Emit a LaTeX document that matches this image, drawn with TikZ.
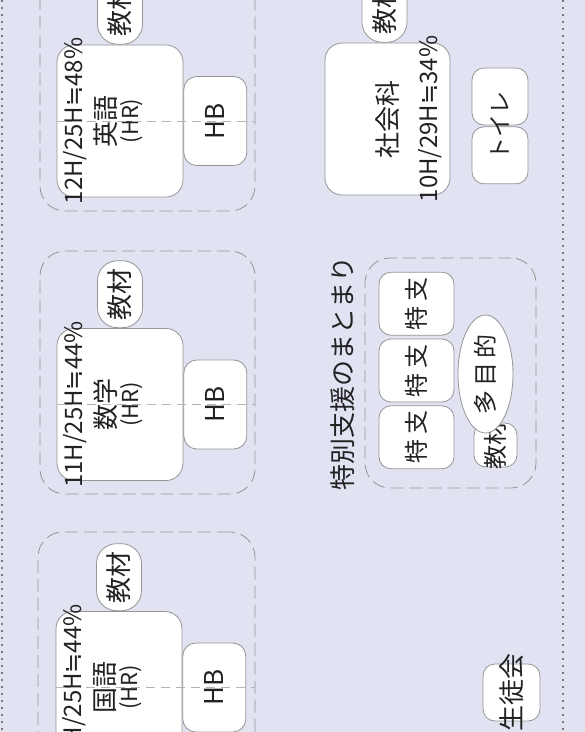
\documentclass[tikz,border=0pt]{standalone}
\usepackage{fontspec}
\setmainfont{Noto Sans CJK JP}
\newfontfamily\symfont{DejaVu Sans}
\usepackage{graphicx}
\usetikzlibrary{positioning,calc,shapes.geometric}
\definecolor{cBg}{HTML}{E1E3F3}
\definecolor{cLine}{HTML}{959595}
\definecolor{cMid}{HTML}{B4B4B4}
\definecolor{cDot}{HTML}{7A7A7A}
\definecolor{cInk}{HTML}{222222}
\newcommand{\vt}[1]{\rotatebox{90}{#1}}
\newcommand{\fs}[1]{\fontsize{#1}{#1}\selectfont}
\newcommand{\apx}{{\symfont ≒}}
\tikzset{
  box/.style ={rounded corners=12pt,draw=cLine,line width=0.8pt,fill=white,text=cInk,inner sep=0pt},
  room/.style={box,rounded corners=17pt,minimum width=126pt,minimum height=152pt,font=\fs{26}},
  hbox/.style={box,rounded corners=13pt,minimum width=63pt,minimum height=89pt,font=\fs{26}},
  kbox/.style={box,rounded corners=20pt,minimum width=45pt,minimum height=67pt,font=\fs{26}},
  sbox/.style={box,minimum width=75pt,minimum height=63pt,font=\fs{24}},
  tbox/.style={box,minimum width=56pt,minimum height=57pt},
  ell/.style ={ellipse,draw=cLine,line width=0.8pt,fill=white,text=cInk,inner sep=0pt},
  grp/.style ={rounded corners=25pt,draw=cLine,line width=0.8pt,dash pattern=on 13pt off 6pt},
  pct/.style ={inner sep=0pt,text=cInk,font=\fs{24}},
  mid/.style ={draw=cMid,line width=0.8pt,dash pattern=on 9pt off 6pt},
  rim/.style ={draw=cDot,line width=1.5pt,dash pattern=on 1.5pt off 5.5pt},
}

\begin{document}
\begin{tikzpicture}[x=1pt,y=-1pt]
\useasboundingbox (0,0) rectangle (585,732);
\fill[cBg] (0,0) rectangle (585,732);
\clip (0,0) rectangle (585,732);
\draw[rim] (2,0) -- (2,732);
\draw[rim] (563,0) -- (563,732);

% English
\node[grp,minimum width=215pt,minimum height=244pt] (G_eng) at (147.5,89) {};
\node[room] (R_eng) at (120,121) {\vt{\begin{tabular}{@{}c@{}}英語\\[-3pt]{\fs{22}(HR)}\end{tabular}}};
\node[hbox,right=0pt of R_eng] (H_eng) {\vt{HB}};
\node[kbox,above=0pt of R_eng] (K_eng) {\vt{教材}};
\node[pct,right=7pt of R_eng.west] (P_eng) {\vt{12H/25H\apx48\%}};
\draw[mid] (R_eng.west) -- (R_eng.west -| G_eng.east);

% Math
\node[grp,minimum width=215pt,minimum height=243pt] (G_math) at (147.5,372.5) {};
\node[room] (R_math) at (120,404.5) {\vt{\begin{tabular}{@{}c@{}}数学\\[-3pt]{\fs{22}(HR)}\end{tabular}}};
\node[hbox,right=0pt of R_math] (H_math) {\vt{HB}};
\node[kbox,above=0pt of R_math] (K_math) {\vt{教材}};
\node[pct,right=7pt of R_math.west] (P_math) {\vt{11H/25H\apx44\%}};
\draw[mid] (R_math.west) -- (R_math.west -| G_math.east);

% Japanese
\node[grp,minimum width=217pt,minimum height=244pt] (G_jpn) at (146.5,654) {};
\node[room] (R_jpn) at (119,687.5) {\vt{\begin{tabular}{@{}c@{}}国語\\[-3pt]{\fs{22}(HR)}\end{tabular}}};
\node[hbox,right=0pt of R_jpn] (H_jpn) {\vt{HB}};
\node[kbox,above=0pt of R_jpn] (K_jpn) {\vt{教材}};
\node[pct,right=7pt of R_jpn.west] (P_jpn) {\vt{11H/25H\apx44\%}};
\draw[mid] (R_jpn.west) -- (R_jpn.west -| G_jpn.east);

% Social studies + toilets
\node[room,minimum width=125pt] (R_soc) at (387.5,119) {\vt{社会科}};
\node[kbox,above=0pt of R_soc,xshift=-3pt] (K_soc) {\vt{教材}};
\node[pct,left=8pt of R_soc.east] (P_soc) {\vt{10H/29H\apx34\%}};
\node[tbox] (T1) at (500,96.5) {};
\node[tbox,below=1pt of T1] (T2) {};
\node[pct,font=\fs{23}] (toi) at ($(T1)!0.5!(T2)$) {\vt{トイレ}};

% special support block
\node[grp,minimum width=171pt,minimum height=230pt] (G_sp) at (450.5,373) {};
\node[pct,font=\fs{26},left=10pt of G_sp] (L_sp) {\vt{特別支援のまとまり}};
\node[sbox] (S2) at (416.5,370.5) {\vt{特\hspace{5pt}支}};
\node[sbox,above=3pt of S2] (S1) {\vt{特\hspace{5pt}支}};
\node[sbox,below=3pt of S2] (S3) {\vt{特\hspace{5pt}支}};
\node[box,minimum width=43pt,minimum height=44pt,font=\fs{24}] (K_sp) at (495.5,445) {\vt{\makebox[0pt]{教材}}};
\node[ell,minimum width=55pt,minimum height=118pt,font=\fs{24}] (M_sp) at (485.5,374) {\vt{多\hspace{4pt}目\hspace{4pt}的}};

% student council
\node[tbox,minimum width=57pt,font=\fs{26}] (C_st) at (511.5,692.5) {\vt{\makebox[0pt]{生徒会}}};
\end{tikzpicture}
\end{document}
